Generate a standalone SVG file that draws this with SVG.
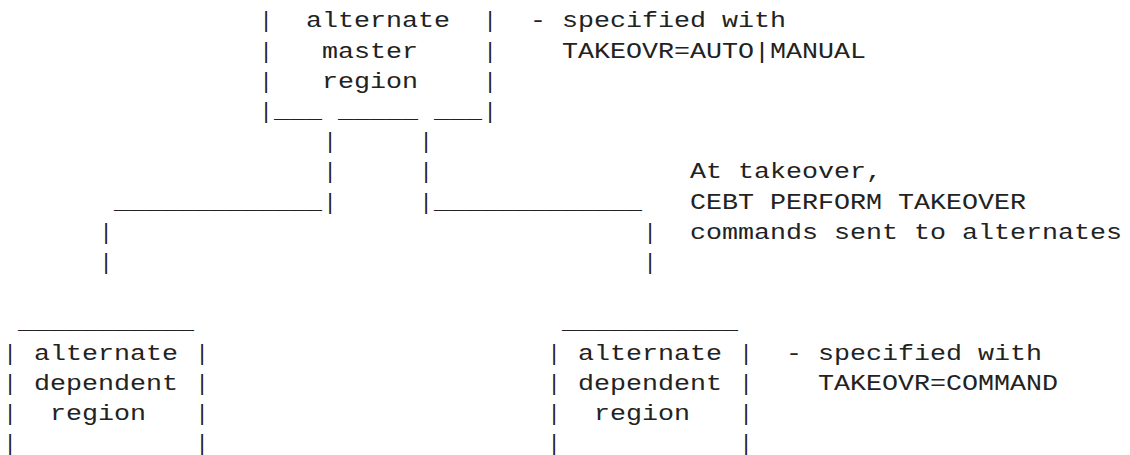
<svg xmlns="http://www.w3.org/2000/svg" width="1130" height="455" viewBox="0 0 1130 455">
  <style>
    /* monospace grid: 16px columns, 30.2px rows; runs are fitted to their cells */
    text { font-family: "Liberation Mono", "Courier New", monospace; font-size: 22px; fill: #222; }
  </style>
  <rect width="1130" height="455" fill="#fff"/>

  <!-- alternate master region -->
  <g id="master">
    <text x="259.4" y="27.3">|</text><text x="306" y="27.3" textLength="144" lengthAdjust="spacingAndGlyphs">alternate</text><text x="483.4" y="27.3">|</text>
    <text x="259.4" y="57.5">|</text><text x="322" y="57.5" textLength="96" lengthAdjust="spacingAndGlyphs">master</text><text x="483.4" y="57.5">|</text>
    <text x="259.4" y="87.7">|</text><text x="322" y="87.7" textLength="96" lengthAdjust="spacingAndGlyphs">region</text><text x="483.4" y="87.7">|</text>
    <text x="259.4" y="117.9">|</text><text x="483.4" y="117.9">|</text>
    <text x="274" y="117.9" textLength="48" lengthAdjust="spacingAndGlyphs">___</text>
    <text x="338" y="117.9" textLength="80" lengthAdjust="spacingAndGlyphs">_____</text>
    <text x="434" y="117.9" textLength="48" lengthAdjust="spacingAndGlyphs">___</text>
  </g>

  <!-- alternate dependent region (left) -->
  <g id="dependent-left">
    <text x="18" y="329.3" textLength="176" lengthAdjust="spacingAndGlyphs">___________</text>
    <text x="3.4" y="359.5">|</text><text x="34" y="359.5" textLength="144" lengthAdjust="spacingAndGlyphs">alternate</text><text x="195.4" y="359.5">|</text>
    <text x="3.4" y="389.7">|</text><text x="34" y="389.7" textLength="144" lengthAdjust="spacingAndGlyphs">dependent</text><text x="195.4" y="389.7">|</text>
    <text x="3.4" y="419.9">|</text><text x="50" y="419.9" textLength="96" lengthAdjust="spacingAndGlyphs">region</text><text x="195.4" y="419.9">|</text>
    <text x="3.4" y="450.1">|</text><text x="195.4" y="450.1">|</text>
  </g>

  <!-- alternate dependent region (right) -->
  <g id="dependent-right">
    <text x="562" y="329.3" textLength="176" lengthAdjust="spacingAndGlyphs">___________</text>
    <text x="547.4" y="359.5">|</text><text x="578" y="359.5" textLength="144" lengthAdjust="spacingAndGlyphs">alternate</text><text x="739.4" y="359.5">|</text>
    <text x="547.4" y="389.7">|</text><text x="578" y="389.7" textLength="144" lengthAdjust="spacingAndGlyphs">dependent</text><text x="739.4" y="389.7">|</text>
    <text x="547.4" y="419.9">|</text><text x="594" y="419.9" textLength="96" lengthAdjust="spacingAndGlyphs">region</text><text x="739.4" y="419.9">|</text>
    <text x="547.4" y="450.1">|</text><text x="739.4" y="450.1">|</text>
  </g>

  <!-- connectors drawn with box characters -->
  <g id="connectors">
    <text x="323.4" y="148.1">|</text><text x="419.4" y="148.1">|</text>
    <text x="323.4" y="178.3">|</text><text x="419.4" y="178.3">|</text>
    <text x="114" y="208.5" textLength="208" lengthAdjust="spacingAndGlyphs">_____________</text>
    <text x="323.4" y="208.5">|</text><text x="419.4" y="208.5">|</text>
    <text x="434" y="208.5" textLength="208" lengthAdjust="spacingAndGlyphs">_____________</text>
    <text x="99.4" y="238.7">|</text><text x="643.4" y="238.7">|</text>
    <text x="99.4" y="268.9">|</text><text x="643.4" y="268.9">|</text>
  </g>

  <!-- notes -->
  <g id="notes">
    <text x="530" y="27.3" textLength="256" lengthAdjust="spacingAndGlyphs">- specified with</text>
    <text x="562" y="57.5" textLength="304" lengthAdjust="spacingAndGlyphs">TAKEOVR=AUTO|MANUAL</text>
    <text x="690" y="178.3" textLength="192" lengthAdjust="spacingAndGlyphs">At takeover,</text>
    <text x="690" y="208.5" textLength="336" lengthAdjust="spacingAndGlyphs">CEBT PERFORM TAKEOVER</text>
    <text x="690" y="238.7" textLength="432" lengthAdjust="spacingAndGlyphs">commands sent to alternates</text>
    <text x="786" y="359.5" textLength="256" lengthAdjust="spacingAndGlyphs">- specified with</text>
    <text x="818" y="389.7" textLength="240" lengthAdjust="spacingAndGlyphs">TAKEOVR=COMMAND</text>
  </g>
</svg>
